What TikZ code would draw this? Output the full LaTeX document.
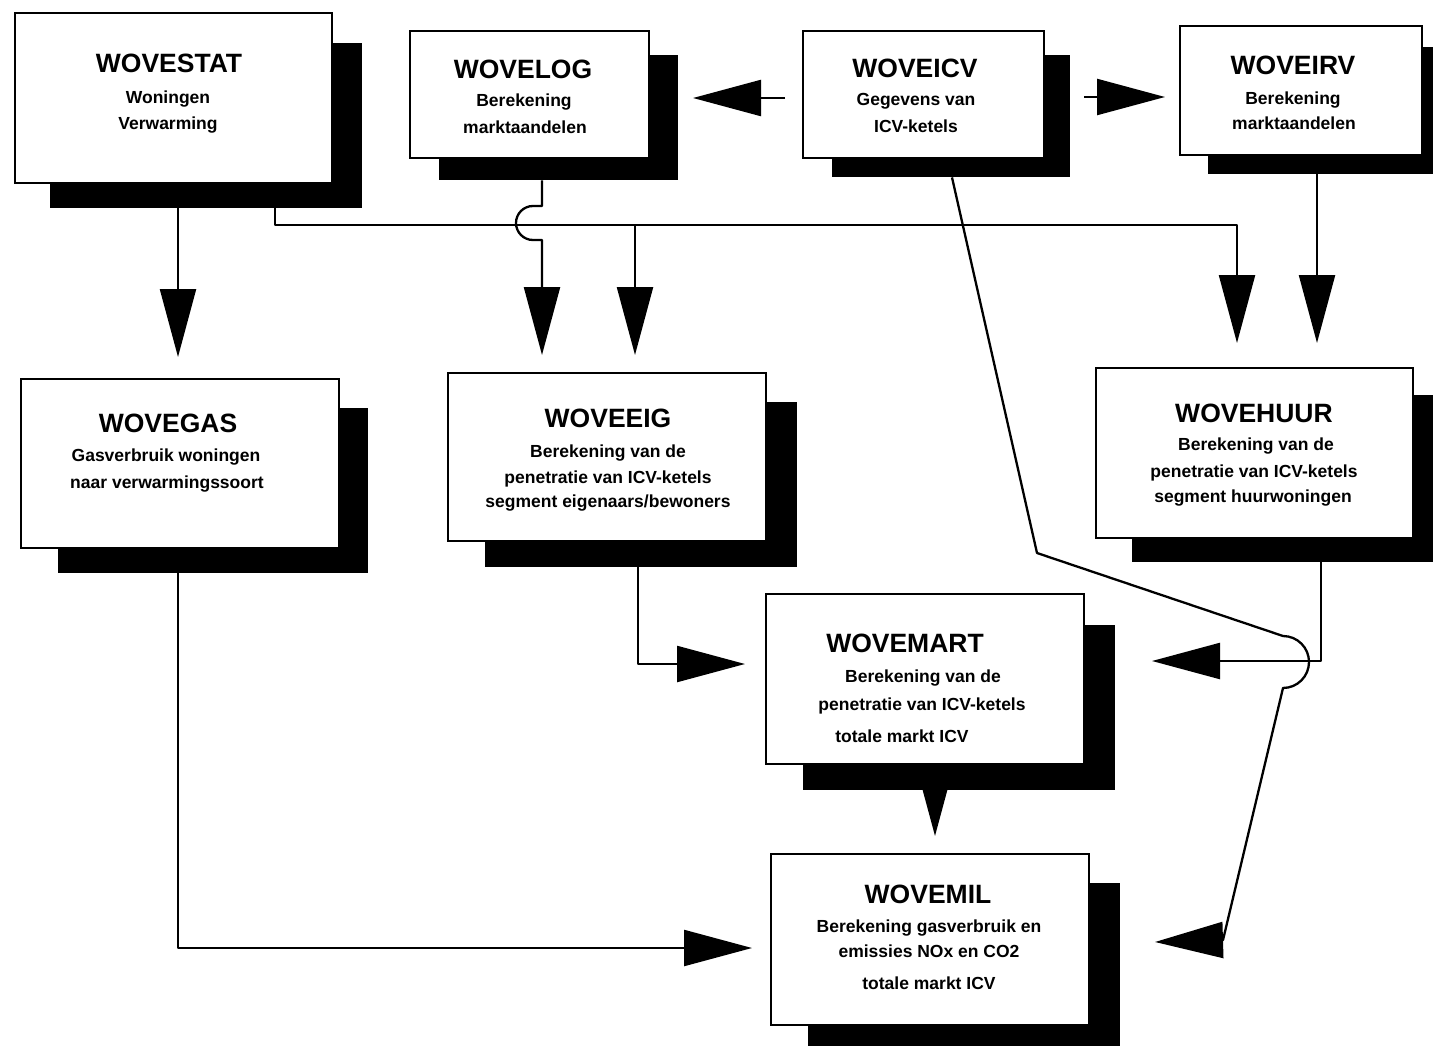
\documentclass[tikz,border=0pt]{standalone}
\usepackage{fontspec}
\setmainfont{Liberation Sans}
\usetikzlibrary{arrows.meta,calc}
\pgfdeclarelayer{bg}
\pgfdeclarelayer{back}
\pgfsetlayers{bg,back,main}
\begin{document}
\begin{tikzpicture}[x=1pt,y=-1pt,
  bx/.style={draw=black,line width=2.4pt,fill=white,inner sep=0pt,anchor=north west},
  sh/.style={fill=black,inner sep=0pt,anchor=north west},
  ttl/.style={font=\fontsize{26.5}{26.5}\selectfont\bfseries,anchor=base,inner sep=0pt},
  sub/.style={font=\fontsize{17.5}{17.5}\selectfont\bfseries,anchor=base,inner sep=0pt},
  ln/.style={line width=2.3pt,line join=round},
  arr/.style={ln,-{Triangle[length=68pt,width=36pt]}}]
\begin{pgfonlayer}{bg}
\fill[white] (0,0) rectangle (1433,1046);
\end{pgfonlayer}
\useasboundingbox (0,0) rectangle (1433,1046);

% WOVESTAT
\node[sh,minimum width=312pt,minimum height=165pt] (statS) at (50,43) {};
\node[bx,minimum width=317pt,minimum height=170pt] (stat) at (14,12) {};
\node[ttl] (statT) at (169,73) {WOVESTAT};
\node[sub] (statA) at (168,104) {Woningen};
\node[sub] (statB) at (168,130) {Verwarming};

% WOVELOG
\node[sh,minimum width=239pt,minimum height=125pt] (logS) at (439,55) {};
\node[bx,minimum width=239pt,minimum height=127pt] (log) at (409,30) {};
\node[ttl] (logT) at (523,79) {WOVELOG};
\node[sub] (logA) at (524,107) {Berekening};
\node[sub] (logB) at (525,134) {marktaandelen};

% WOVEICV
\node[sh,minimum width=238pt,minimum height=122pt] (icvS) at (832,55) {};
\node[bx,minimum width=241pt,minimum height=127pt] (icv) at (802,30) {};
\node[ttl] (icvT) at (915,78) {WOVEICV};
\node[sub] (icvA) at (916,106) {Gegevens van};
\node[sub] (icvB) at (916,133) {ICV-ketels};

% WOVEIRV
\node[sh,minimum width=230pt,minimum height=127pt] (irvS) at (1208,47) {};
\node[bx,minimum width=242pt,minimum height=129pt] (irv) at (1179,25) {};
\node[ttl] (irvT) at (1293,75) {WOVEIRV};
\node[sub] (irvA) at (1293,105) {Berekening};
\node[sub] (irvB) at (1294,130) {marktaandelen};

% WOVEGAS
\node[sh,minimum width=310pt,minimum height=165pt] (gasS) at (58,408) {};
\node[bx,minimum width=318pt,minimum height=169pt] (gas) at (20,378) {};
\node[ttl] (gasT) at (168,432) {WOVEGAS};
\node[sub] (gasA) at (166,461) {Gasverbruik woningen};
\node[sub] (gasB) at (167,488) {naar verwarmingssoort};

% WOVEEIG
\node[sh,minimum width=312pt,minimum height=165pt] (eigS) at (485,402) {};
\node[bx,minimum width=318pt,minimum height=168pt] (eig) at (447,372) {};
\node[ttl] (eigT) at (608,427) {WOVEEIG};
\node[sub] (eigA) at (608,457) {Berekening van de};
\node[sub] (eigB) at (608,483) {penetratie van ICV-ketels};
\node[sub] (eigC) at (608,507) {segment eigenaars/bewoners};

% WOVEHUUR
\node[sh,minimum width=305pt,minimum height=167pt] (huurS) at (1132,395) {};
\node[bx,minimum width=317pt,minimum height=170pt] (huur) at (1095,367) {};
\node[ttl] (huurT) at (1254,422) {WOVEHUUR};
\node[sub] (huurA) at (1256,450) {Berekening van de};
\node[sub] (huurB) at (1254,477) {penetratie van ICV-ketels};
\node[sub] (huurC) at (1253,502) {segment huurwoningen};

% WOVEMART
\node[sh,minimum width=312pt,minimum height=165pt] (martS) at (803,625) {};
\node[bx,minimum width=318pt,minimum height=170pt] (mart) at (765,593) {};
\node[ttl] (martT) at (905,652) {WOVEMART};
\node[sub] (martA) at (923,682) {Berekening van de};
\node[sub] (martB) at (922,710) {penetratie van ICV-ketels};
\node[sub] (martC) at (902,742) {totale markt ICV};

% WOVEMIL
\node[sh,minimum width=312pt,minimum height=165pt] (milS) at (808,883) {};
\node[bx,minimum width=318pt,minimum height=171pt] (mil) at (770,853) {};
\node[ttl] (milT) at (928,903) {WOVEMIL};
\node[sub] (milA) at (929,932) {Berekening gasverbruik en};
\node[sub] (milB) at (929,957) {emissies NOx en CO2};
\node[sub] (milC) at (929,989) {totale markt ICV};

% free ends of connectors
\coordinate (gasIn) at (178,357);
\coordinate (busL) at (275,225);
\coordinate (busR) at (1237,225);
\coordinate (huurIn1) at (1237,343);
\coordinate (busM) at (635,225);
\coordinate (eigIn2) at (635,355);
\coordinate (eigIn1) at (542,355);
\coordinate (icvL) at (785,98);
\coordinate (logIn) at (693,98);
\coordinate (icvR) at (1084,97);
\coordinate (irvIn) at (1165,97);
\coordinate (huurIn2) at (1317,343);
\coordinate (huurBend) at (1321,661);
\coordinate (martInR) at (1152,661);
\coordinate (eigBend) at (638,664);
\coordinate (martInL) at (745,664);
\coordinate (milInT) at (935,836);
\coordinate (gasBend) at (178,948);
\coordinate (milInL) at (752,948);
\coordinate (icvBend1) at (1037,553);
\coordinate (icvHop) at (1283,636);
\coordinate (icvBend2) at (1223,940);
\coordinate (milInR) at (1155,942);

\begin{pgfonlayer}{back}
\draw[arr] ([xshift=128pt]statS.south west) -- (gasIn);
\draw[arr] ([xshift=225pt]statS.south west) -- (busL) -- (busR) -- (huurIn1);
\draw[arr] (busM) -- (eigIn2);
\draw[arr] ([xshift=103pt]logS.south west) -- (542,206) -- (533,206)
  arc[start angle=90,end angle=270,radius=17pt] -- (542,240) -- (eigIn1);
\draw[arr] (icvL) -- (logIn);
\draw[arr] (icvR) -- (irvIn);
\draw[arr] ([xshift=109pt]irvS.south west) -- (huurIn2);
\draw[arr] ([xshift=120pt]icvS.south west) -- (icvBend1) -- (icvHop)
  arc[start angle=90,end angle=-90,radius=26pt] -- (icvBend2) -- (milInR);
\draw[arr] ([xshift=189pt]huurS.south west) -- (huurBend) -- (martInR);
\draw[arr] ([xshift=153pt]eigS.south west) -- (eigBend) -- (martInL);
\draw[arr] ([xshift=170pt]mart.south west) -- (milInT);
\draw[arr] ([xshift=120pt]gasS.south west) -- (gasBend) -- (milInL);
\end{pgfonlayer}
\end{tikzpicture}
\end{document}
